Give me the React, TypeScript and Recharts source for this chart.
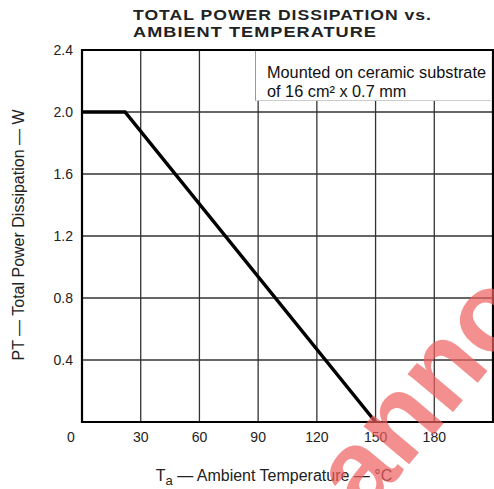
import React from "react";
import { LineChart, Line, XAxis, YAxis, CartesianGrid, ReferenceArea } from "recharts";

const temps = [0, 22, 150];
const power = [2.0, 2.0, 0];
const xTicks = [0, 30, 60, 90, 120, 150, 180, 210];
const yTicks = [0, 0.4, 0.8, 1.2, 1.6, 2.0, 2.4];
const titleLines = ["TOTAL POWER DISSIPATION vs.", "AMBIENT TEMPERATURE"];
const noteLines = ["Mounted on ceramic substrate", "of 16 cm² x 0.7 mm"];

const data = temps.map((t, i) => ({ t, p: power[i] }));
const FONT = "'Liberation Sans', Arial, sans-serif";

const XTick = (props: any) => {
  const { x, y, payload } = props;
  if (payload.value === 210) return null;
  return (
    <text x={payload.value === 0 ? x - 11 : x} y={y} dy="0.71em" textAnchor="middle" fontSize={14} fontFamily={FONT} fill="#222">
      {payload.value}
    </text>
  );
};

const YTick = (props: any) => {
  const { x, y, payload } = props;
  if (payload.value === 0) return null;
  return (
    <text x={x} y={y} dy="0.355em" textAnchor="end" fontSize={14} fontFamily={FONT} fill="#222">
      {payload.value.toFixed(1)}
    </text>
  );
};

export default function App() {
  return (
    <div style={{ position: "absolute", left: 0, top: 0, width: 494, height: 489, background: "#fff", overflow: "hidden" }}>
      <LineChart width={494} height={489} data={data} margin={{ top: 50, right: 1, bottom: 37, left: 0 }}>
        <CartesianGrid stroke="#333" strokeWidth={1.3} />
        <XAxis dataKey="t" type="number" domain={[0, 210]} ticks={xTicks} interval={0} height={30}
          tickLine={false} axisLine={false} tickSize={6} tickMargin={4} tick={<XTick />} />
        <YAxis type="number" domain={[0, 2.4]} ticks={yTicks} interval={0} width={82}
          tickLine={false} axisLine={false} tickSize={6} tickMargin={3} tick={<YTick />} />
        <ReferenceArea x1={0} x2={210} y1={0} y2={2.4} fill="none" stroke="#000" strokeWidth={2.2} fillOpacity={0} ifOverflow="visible" />
        <Line dataKey="p" stroke="#000" strokeWidth={3.5} dot={false} isAnimationActive={false} strokeLinejoin="miter" />
      </LineChart>
      <div style={{ position: "absolute", left: 255, top: 51, width: 236, height: 50, background: "#fff",
        borderLeft: "1px solid #999", borderBottom: "1px solid #ccc", boxSizing: "border-box" }} />
      <svg width={494} height={489} style={{ position: "absolute", left: 0, top: 0, pointerEvents: "none" }}>
        <text x={133} y={19.5} fontSize={14} fontWeight="bold" fontFamily={FONT} fill="#222" letterSpacing={0.8} textLength={299} lengthAdjust="spacingAndGlyphs">{titleLines[0]}</text>
        <text x={133} y={37} fontSize={14} fontWeight="bold" fontFamily={FONT} fill="#222" letterSpacing={0.8} textLength={244} lengthAdjust="spacingAndGlyphs">{titleLines[1]}</text>
        <text x={267} y={78} fontSize={16.3} fontFamily={FONT} fill="#111">{noteLines[0]}</text>
        <text x={267} y={97} fontSize={16.3} fontFamily={FONT} fill="#111">{noteLines[1]}</text>
        <text transform="translate(24,235) rotate(-90)" textAnchor="middle" fontSize={16} fontFamily={FONT} fill="#222">
          PT — Total Power Dissipation — W
        </text>
        <text x={274} y={481} textAnchor="middle" fontSize={16} fontFamily={FONT} fill="#222">
          T<tspan fontSize={13} dy={4}>a</tspan><tspan dy={-4}> — Ambient Temperature — °C</tspan>
        </text>
        <text transform="translate(364,518) rotate(-50)" fontSize={112} fontWeight="bold" fontFamily={FONT} fill="#f06060" fillOpacity={0.7}>
          anno
        </text>
      </svg>
    </div>
  );
}
